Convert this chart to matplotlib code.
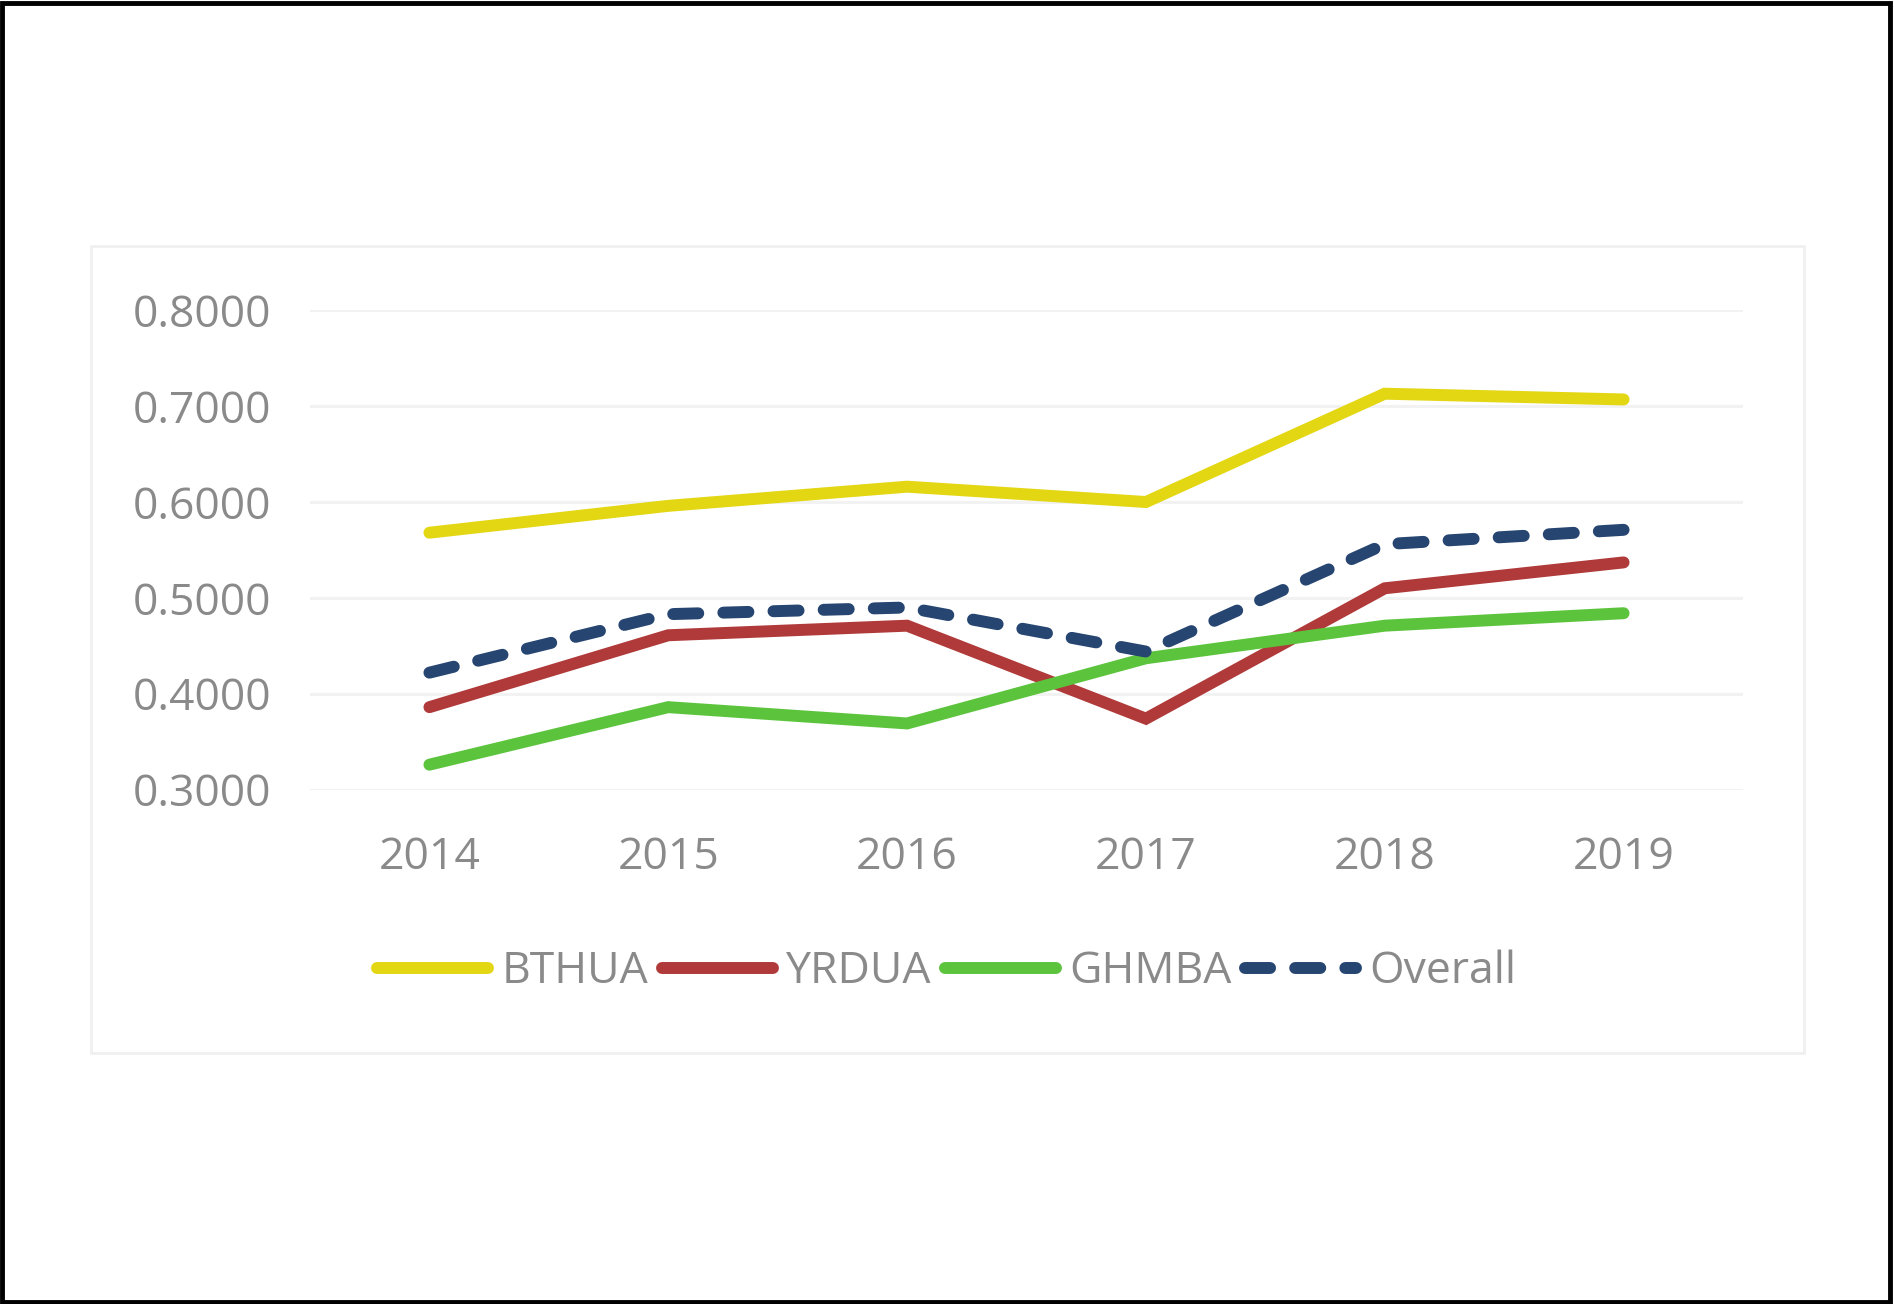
import matplotlib
matplotlib.use("Agg")
import matplotlib.pyplot as plt
from matplotlib.patches import Rectangle

years = ["2014", "2015", "2016", "2017", "2018", "2019"]
bthua = [0.568, 0.596, 0.616, 0.600, 0.713, 0.707]
yrdua = [0.386, 0.461, 0.471, 0.374, 0.510, 0.537]
ghmba = [0.326, 0.386, 0.369, 0.437, 0.471, 0.484]
overall = [0.422, 0.483, 0.490, 0.444, 0.556, 0.571]
yticks = [0.3, 0.4, 0.5, 0.6, 0.7, 0.8]

plt.rcParams['font.family'] = ['Open Sans', 'DejaVu Sans']
TXT = '#8A8A8A'
W, H = 1894, 1304
fig = plt.figure(figsize=(W/100, H/100), dpi=100)

# outer black frame and chart-area box
fig.add_artist(Rectangle((0.001, 0.0015), 0.997, 0.996, transform=fig.transFigure,
                         fill=False, edgecolor='black', linewidth=3.5))
fig.add_artist(Rectangle((91/W, 1-1053/H), (1804-91)/W, (1053-246)/H, transform=fig.transFigure,
                         fill=False, edgecolor='#F0F0F0', linewidth=2))

ax = fig.add_axes([310/W, 1-789.6/H, (1743-310)/W, (789.6-310.3)/H])
x = list(range(len(years)))
lw = 8.6
ax.plot(x, bthua, color='#E3D612', lw=lw, solid_capstyle='round', solid_joinstyle='miter',
        label='BTHUA', zorder=3)
ax.plot(x, yrdua, color='#B03A3A', lw=lw, solid_capstyle='round', solid_joinstyle='miter',
        label='YRDUA', zorder=3)
ax.plot(x, ghmba, color='#5CC43C', lw=lw, solid_capstyle='round', solid_joinstyle='miter',
        label='GHMBA', zorder=3)
ax.plot(x, overall, color='#264570', lw=lw, dashes=(2.1, 2.1), dash_capstyle='round',
        label='Overall', zorder=4)

ax.set_xlim(-0.5, 5.5)
ax.set_ylim(0.3, 0.8)
ax.set_yticks(yticks)
ax.set_yticklabels([f"{v:.4f}" for v in yticks])
ax.set_xticks(x)
ax.set_xticklabels(years)
ax.grid(axis='y', color='#F2F2F2', lw=2.2, zorder=0)
ax.set_axisbelow(True)
for s in ax.spines.values():
    s.set_visible(False)
ax.tick_params(axis='both', length=0, labelsize=32, labelcolor=TXT)
ax.tick_params(axis='y', pad=28)
ax.tick_params(axis='x', pad=33)

handles, labels = ax.get_legend_handles_labels()
leg = fig.legend(handles, labels, loc='center', bbox_to_anchor=(947/W, 1-972/H), ncol=4,
                 frameon=False, fontsize=32, handlelength=2.5, handletextpad=0.3,
                 columnspacing=0.3, labelcolor=TXT)

fig.savefig('out.png', dpi=100)
